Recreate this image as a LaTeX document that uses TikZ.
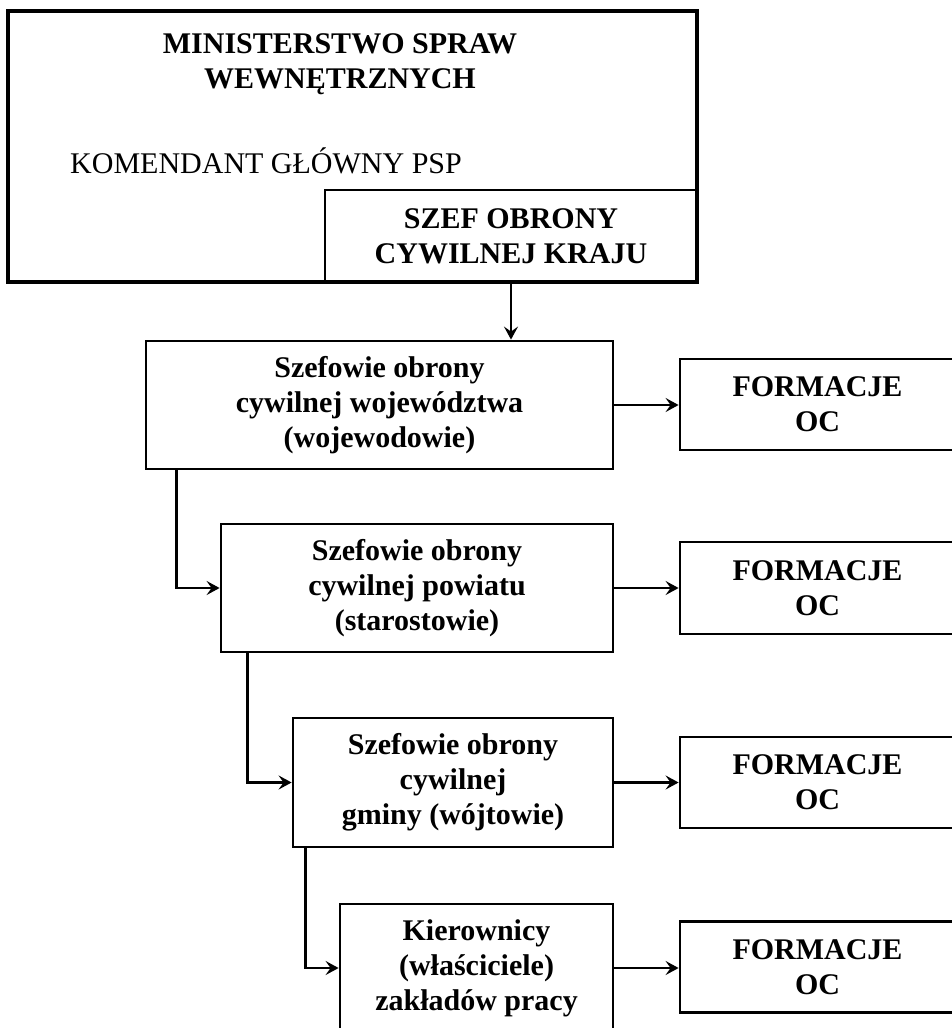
\documentclass[tikz,border=0pt]{standalone}
\usepackage{fontspec}
\setmainfont{Liberation Serif}
\usetikzlibrary{arrows.meta}
\begin{document}
\begin{tikzpicture}[x=1pt,y=-1pt,
  txt/.style={inner sep=0pt, align=center, font=\fontsize{30}{35}\selectfont\bfseries},
  box/.style={txt, draw, line width=2.8pt},
  formbox/.style={box, minimum width=275pt},
  conn/.style={line width=2.5pt, -{Stealth[length=13pt,width=14pt,inset=5pt]}},
]
\useasboundingbox (0,0) rectangle (952,1028);
\clip (0,0) rectangle (952,1028);
% top block
\node[box, minimum width=372pt, minimum height=92pt] (szef) at (511,236) {SZEF OBRONY\\CYWILNEJ KRAJU};
\node[draw, line width=4.5pt, minimum width=689pt, minimum height=271pt, inner sep=0pt] (msw) at (352.5,146.5) {};
\node[txt, anchor=north] (title) at (340,33) {MINISTERSTWO SPRAW\\WEWNĘTRZNYCH};
\node[inner sep=0pt, anchor=base west, font=\fontsize{30}{35}\selectfont] (kom) at (70,173) {KOMENDANT GŁÓWNY PSP};
% chain
\node[box, minimum width=467pt, minimum height=128pt] (b1) at (379.5,405) {Szefowie obrony\\cywilnej województwa\\(wojewodowie)};
\node[box, minimum width=392pt, minimum height=128pt] (b2) at (417,588) {Szefowie obrony\\cywilnej powiatu\\(starostowie)};
\node[box, minimum width=320pt, minimum height=129pt] (b3) at (453,782.5) {Szefowie obrony\\cywilnej\\gminy (wójtowie)};
\node[box, minimum width=273pt, minimum height=128pt] (b4) at (476.5,968) {Kierownicy\\(właściciele)\\zakładów pracy};
% formations
\node[formbox, minimum height=91pt] (f1) at (817.5,404.5) {FORMACJE\\OC};
\node[formbox, minimum height=92pt] (f2) at (817.5,588) {FORMACJE\\OC};
\node[formbox, minimum height=91pt] (f3) at (817.5,782.5) {FORMACJE\\OC};
\node[formbox, minimum height=91pt] (f4) at (817.5,967) {FORMACJE\\OC};
% connectors
\draw[conn] (szef.south) -- (szef.south |- b1.north);
\draw[conn] (b1.east) -- (b1.east -| f1.west);
\draw[conn] (b2.east) -- (b2.east -| f2.west);
\draw[conn] (b3.east) -- (b3.east -| f3.west);
\draw[conn] (b4.east) -- (b4.east -| f4.west);
\draw[conn] (b1.south west) ++(32,0) |- (b2.west);
\draw[conn] (b2.south west) ++(28,0) |- (b3.west);
\draw[conn] (b3.south west) ++(14,0) |- (b4.west);
\end{tikzpicture}
\end{document}
